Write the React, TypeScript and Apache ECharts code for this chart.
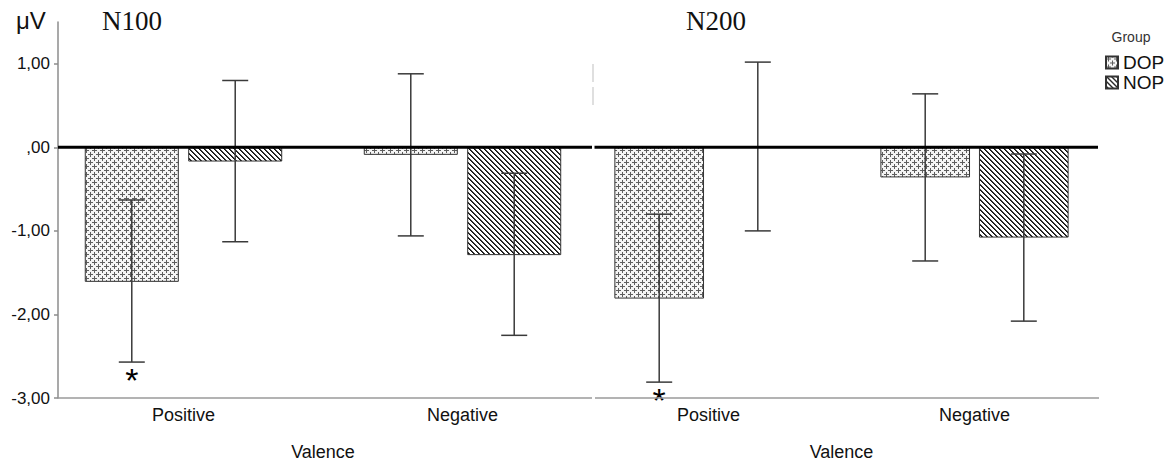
import React, { useEffect, useRef } from "react";
import * as echarts from "echarts";

// ---------- data ----------
const categories = ["Positive", "Negative"];
const yTickValues = [-3, -2, -1, 0, 1];

const n100Dop = [-1.61, -0.09];
const n100Nop = [-0.17, -1.29];
const n100DopLow = [-2.57, -1.06];
const n100DopHigh = [-0.63, 0.88];
const n100NopLow = [-1.13, -2.25];
const n100NopHigh = [0.8, -0.31];
const n100DopSig = [true, false];
const n100NopSig = [false, false];

const n200Dop = [-1.81, -0.36];
const n200Nop = [0.01, -1.08];
const n200DopLow = [-2.81, -1.36];
const n200DopHigh = [-0.8, 0.64];
const n200NopLow = [-1.0, -2.08];
const n200NopHigh = [1.02, -0.08];
const n200DopSig = [true, false];
const n200NopSig = [false, false];

// ---------- style constants ----------
const SANS = "'Liberation Sans', Arial, sans-serif";
const SERIF = "'Liberation Serif', 'Times New Roman', serif";
const BAR_FRAC = 0.337;
const GAP_FRAC = 0.1;
const CAP = 13;

function makeTile(size: number, draw: (ctx: CanvasRenderingContext2D) => void) {
  const c = document.createElement("canvas");
  c.width = size;
  c.height = size;
  const ctx = c.getContext("2d") as CanvasRenderingContext2D;
  draw(ctx);
  return c.toDataURL();
}

function dopPattern() {
  const size = 8;
  const src = makeTile(size, (ctx) => {
    ctx.fillStyle = "#f4f4f4";
    ctx.fillRect(0, 0, size, size);
    ctx.fillStyle = "#5e5e5e";
    const put = (x: number, y: number) =>
      ctx.fillRect(((x % size) + size) % size, ((y % size) + size) % size, 1, 1);
    const plus = (cx: number, cy: number) => {
      for (let d = -2; d <= 2; d++) {
        put(cx + d, cy);
        if (d !== 0) put(cx, cy + d);
      }
    };
    plus(2, 2);
    plus(6, 6);
  });
  return { image: src, repeat: "repeat", imageWidth: size, imageHeight: size };
}

function nopPattern() {
  const size = 5;
  const src = makeTile(size, (ctx) => {
    ctx.fillStyle = "#ffffff";
    ctx.fillRect(0, 0, size, size);
    for (let y = 0; y < size; y++) {
      for (let x = 0; x < size; x++) {
        const m = (((x - y) % size) + size) % size;
        if (m === 0) {
          ctx.fillStyle = "#111111";
          ctx.fillRect(x, y, 1, 1);
        } else if (m === 1) {
          ctx.fillStyle = "#444444";
          ctx.fillRect(x, y, 1, 1);
        }
      }
    }
  });
  return { image: src, repeat: "repeat", imageWidth: size, imageHeight: size };
}

function errorSeries(
  xi: number,
  low: number[],
  high: number[],
  sig: boolean[],
  side: number
) {
  return {
    type: "custom",
    xAxisIndex: xi,
    yAxisIndex: xi,
    z: 5,
    silent: true,
    data: categories.map((_, i) => [i, low[i], high[i], sig[i] ? 1 : 0]),
    encode: { x: 0, y: [1, 2] },
    renderItem: (params: any, api: any) => {
      const i = api.value(0);
      const lo = api.value(1);
      const hi = api.value(2);
      const s = api.value(3);
      const band = api.size([1, 0])[0];
      const pLo = api.coord([i, lo]);
      const pHi = api.coord([i, hi]);
      const x = pLo[0] + (side * band * BAR_FRAC * (1 + GAP_FRAC)) / 2;
      const style = { stroke: "#3a3a3a", lineWidth: 1.5 };
      const children: any[] = [
        { type: "line", shape: { x1: x, y1: pHi[1], x2: x, y2: pLo[1] }, style },
        { type: "line", shape: { x1: x - CAP, y1: pHi[1], x2: x + CAP, y2: pHi[1] }, style },
        { type: "line", shape: { x1: x - CAP, y1: pLo[1], x2: x + CAP, y2: pLo[1] }, style },
      ];
      if (s) {
        children.push({
          type: "text",
          x,
          y: pLo[1] + 1,
          style: {
            text: "*",
            fontSize: 34,
            fontFamily: SANS,
            fill: "#000",
            align: "center",
            verticalAlign: "top",
          },
        });
      }
      return { type: "group", children };
    },
  };
}

function fmt(v: number) {
  if (v === 0) return ",00";
  return v.toFixed(2).replace(".", ",");
}

export default function App() {
  const ref = useRef<HTMLDivElement>(null);

  useEffect(() => {
    if (!ref.current) return;
    const chart = echarts.init(ref.current, null, { renderer: "svg" });
    const dop = dopPattern();
    const nop = nopPattern();
    const barStyle = (color: any) => ({ color, borderColor: "#333", borderWidth: 1 });

    const xAxisBase = {
      type: "category",
      data: categories,
      axisLine: { show: false },
      axisTick: { show: false },
      axisLabel: { fontSize: 18, color: "#111", margin: 8, fontFamily: SANS },
      name: "Valence",
      nameLocation: "middle",
      nameGap: 45,
      nameTextStyle: { fontSize: 18, color: "#111", fontFamily: SANS },
    };

    chart.setOption({
      animation: false,
      backgroundColor: "#ffffff",
      grid: [
        { left: 44, top: 22, width: 558, height: 376, outerBoundsMode: "none" },
        { left: 575.5, top: 22, width: 532, height: 376, outerBoundsMode: "none" },
      ],
      xAxis: [
        { ...xAxisBase, gridIndex: 0 },
        { ...xAxisBase, gridIndex: 1 },
      ],
      yAxis: [
        {
          gridIndex: 0,
          type: "value",
          min: -3,
          max: 1.5,
          interval: 1,
          offset: -14,
          axisLine: { show: true, lineStyle: { color: "#8c8c8c", width: 1.5 } },
          axisTick: {
            show: true,
            length: 4,
            customValues: yTickValues,
            lineStyle: { color: "#8c8c8c", width: 1.5 },
          },
          splitLine: { show: false },
          axisLabel: {
            customValues: yTickValues,
            formatter: fmt,
            fontSize: 17,
            color: "#111",
            margin: 8,
            fontFamily: SANS,
          },
        },
        {
          gridIndex: 1,
          type: "value",
          min: -3,
          max: 1.5,
          interval: 1,
          show: false,
          splitLine: { show: false },
        },
      ],
      legend: {
        data: ["DOP", "NOP"],
        left: 1100,
        top: 48,
        orient: "vertical",
        icon: "rect",
        itemWidth: 12,
        itemHeight: 12,
        itemGap: 1,
        selectedMode: false,
        textStyle: { fontSize: 19, color: "#111", fontFamily: SANS, lineHeight: 19 },
      },
      series: [
        {
          name: "DOP",
          type: "bar",
          xAxisIndex: 0,
          yAxisIndex: 0,
          data: n100Dop,
          barWidth: BAR_FRAC * 100 + "%",
          barGap: GAP_FRAC * 100 + "%",
          itemStyle: barStyle(dop),
        },
        {
          name: "NOP",
          type: "bar",
          xAxisIndex: 0,
          yAxisIndex: 0,
          data: n100Nop,
          barWidth: BAR_FRAC * 100 + "%",
          barGap: GAP_FRAC * 100 + "%",
          itemStyle: barStyle(nop),
        },
        {
          name: "DOP",
          type: "bar",
          xAxisIndex: 1,
          yAxisIndex: 1,
          data: n200Dop,
          barWidth: BAR_FRAC * 100 + "%",
          barGap: GAP_FRAC * 100 + "%",
          itemStyle: barStyle(dop),
        },
        {
          name: "NOP",
          type: "bar",
          xAxisIndex: 1,
          yAxisIndex: 1,
          data: n200Nop,
          barWidth: BAR_FRAC * 100 + "%",
          barGap: GAP_FRAC * 100 + "%",
          itemStyle: barStyle(nop),
        },
        errorSeries(0, n100DopLow, n100DopHigh, n100DopSig, -1),
        errorSeries(0, n100NopLow, n100NopHigh, n100NopSig, 1),
        errorSeries(1, n200DopLow, n200DopHigh, n200DopSig, -1),
        errorSeries(1, n200NopLow, n200NopHigh, n200NopSig, 1),
      ],
    });

    const y0 = chart.convertToPixel({ yAxisIndex: 0 }, 0) as number;
    const yB = chart.convertToPixel({ yAxisIndex: 0 }, -3) as number;
    const axisStyle = { stroke: "#9a9a9a", lineWidth: 1.5 };
    const zeroStyle = { stroke: "#000", lineWidth: 3 };

    chart.setOption({
      graphic: [
        { type: "line", z: 10, shape: { x1: 58, y1: yB, x2: 592, y2: yB }, style: axisStyle },
        { type: "line", z: 10, shape: { x1: 595, y1: yB, x2: 1099, y2: yB }, style: axisStyle },
        { type: "line", z: 10, shape: { x1: 58, y1: y0, x2: 592, y2: y0 }, style: zeroStyle },
        { type: "line", z: 10, shape: { x1: 594.5, y1: y0, x2: 1098, y2: y0 }, style: zeroStyle },
        { type: "line", z: 10, shape: { x1: 593, y1: 64, x2: 593, y2: 82 }, style: { stroke: "#d4d4d4", lineWidth: 1.5 } },
        { type: "line", z: 10, shape: { x1: 593, y1: 87, x2: 593, y2: 105 }, style: { stroke: "#d4d4d4", lineWidth: 1.5 } },
        {
          type: "text",
          x: 16,
          y: 20,
          style: { text: "μV", fontSize: 24, fontFamily: SANS, fill: "#111", verticalAlign: "middle" },
        },
        {
          type: "text",
          x: 102,
          y: 21,
          style: { text: "N100", fontSize: 27, fontFamily: SERIF, fill: "#111", verticalAlign: "middle" },
        },
        {
          type: "text",
          x: 686,
          y: 21,
          style: { text: "N200", fontSize: 27, fontFamily: SERIF, fill: "#111", verticalAlign: "middle" },
        },
        {
          type: "text",
          x: 1131,
          y: 37,
          style: { text: "Group", fontSize: 14, fontFamily: SANS, fill: "#333", align: "center", verticalAlign: "middle" },
        },
      ],
    });

    return () => chart.dispose();
  }, []);

  return (
    <div
      ref={ref}
      style={{ position: "fixed", left: 0, top: 0, width: 1169, height: 465, background: "#fff" }}
    />
  );
}
